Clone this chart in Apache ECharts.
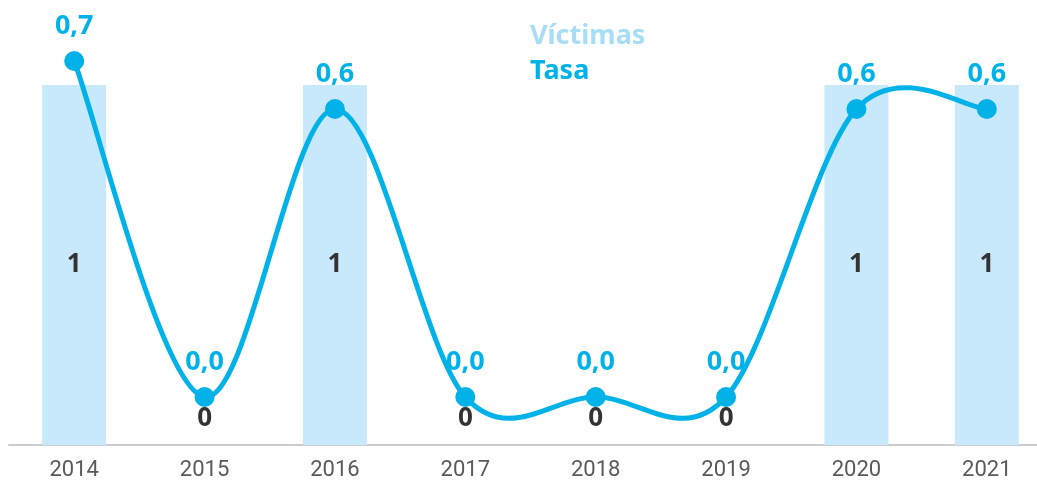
<!DOCTYPE html>
<html><head><meta charset="utf-8">
<script src="https://cdn.jsdelivr.net/npm/echarts@6/dist/echarts.min.js"></script>
<style>html,body{margin:0;padding:0;background:#fff;overflow:hidden}#c{width:1052px;height:489px}</style>
</head><body><div id="c"></div>
<script>
const categories = ['2014','2015','2016','2017','2018','2019','2020','2021'];
const victimas = [1,0,1,0,0,0,1,1];
const tasa = [0.7,0.0,0.6,0.0,0.0,0.0,0.6,0.6];

const FONT = 'Noto Sans';
const LINE = '#00b2e8';

// Catmull-Rom curve through the points, positioned via the axis scales (api.coord)
function renderCurve(params, api) {
  if (params.dataIndex !== 0) return null;
  const pts = tasa.map((v, i) => api.coord([i, v]));
  const n = pts.length;
  let d = 'M' + pts[0][0] + ' ' + pts[0][1];
  for (let i = 0; i < n - 1; i++) {
    const p0 = pts[Math.max(i - 1, 0)], p1 = pts[i], p2 = pts[i + 1], p3 = pts[Math.min(i + 2, n - 1)];
    const c1x = p1[0] + (p2[0] - p0[0]) / 6, c1y = p1[1] + (p2[1] - p0[1]) / 6;
    const c2x = p2[0] - (p3[0] - p1[0]) / 6, c2y = p2[1] - (p3[1] - p1[1]) / 6;
    d += ' C' + c1x + ' ' + c1y + ' ' + c2x + ' ' + c2y + ' ' + p2[0] + ' ' + p2[1];
  }
  return {
    type: 'path',
    shape: { pathData: d },
    style: { stroke: LINE, lineWidth: 5, fill: null, lineCap: 'round' },
    silent: true
  };
}

const chart = echarts.init(document.getElementById('c'));
chart.setOption({
  animation:false,
  textStyle:{fontFamily:FONT},
  legend:{
    orient:'vertical', left:525, top:18, itemWidth:0, itemHeight:0, itemGap:8,
    selectedMode:false,
    textStyle:{fontSize:27, fontWeight:'bold', fontFamily:FONT, padding:[0,0,0,-5]},
    data:[
      {name:'Víctimas', icon:'none', textStyle:{color:'#a8ddf6'}},
      {name:'Tasa', icon:'none', textStyle:{color:LINE}}
    ]
  },
  grid:{left:9, right:0, top:85, bottom:44, containLabel:false},
  xAxis:{
    type:'category', data:categories,
    axisLine:{lineStyle:{color:'#cccccc', width:2}},
    axisTick:{show:false},
    axisLabel:{color:'#5a5a5a', fontSize:22, margin:14, fontFamily:'Roboto'}
  },
  yAxis:[
    {type:'value', min:0, max:1, show:false, splitLine:{show:false}},
    {type:'value', min:-0.1, max:0.65, show:false, splitLine:{show:false}}
  ],
  series:[
    {
      name:'Víctimas', type:'bar', yAxisIndex:0, barWidth:64,
      itemStyle:{color:'#c8e9fb'},
      data: victimas.map(v => ({
        value:v,
        label: v === 0 ? {show:true, position:'top', distance:13} : {show:true, position:'inside'}
      })),
      label:{color:'#333', fontSize:26, fontWeight:'bold', fontFamily:FONT},
      z:2
    },
    {
      name:'curve', type:'custom', yAxisIndex:1, clip:false,
      renderItem: renderCurve,
      data: tasa.map((v, i) => [i, v]),
      z:5
    },
    {
      name:'Tasa', type:'line', yAxisIndex:1, clip:false,
      symbol:'circle', symbolSize:20,
      lineStyle:{color:LINE, width:0, opacity:0},
      itemStyle:{color:LINE},
      label:{show:true, position:'top', distance:11, color:LINE, fontSize:27, fontWeight:'bold', fontFamily:FONT,
        formatter: p => p.value.toFixed(1).replace('.', ',')},
      data: tasa,
      z:6
    }
  ]
});
</script></body></html>
